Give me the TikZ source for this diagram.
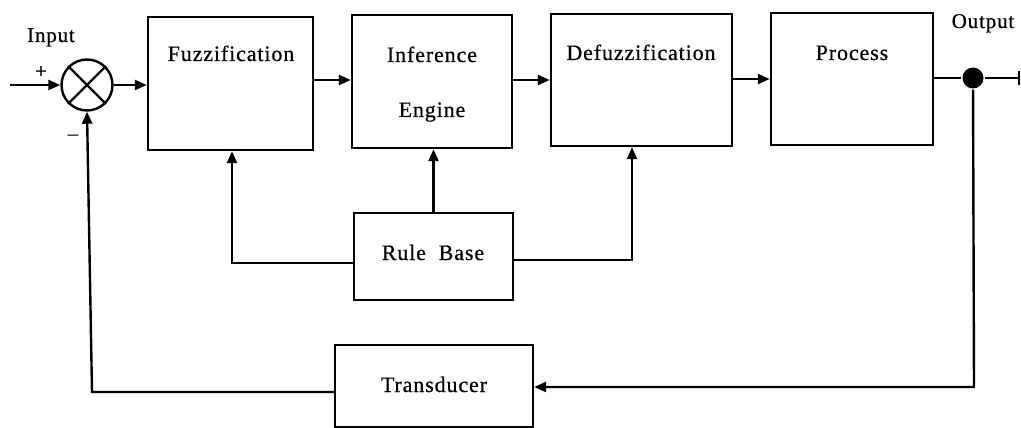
\documentclass[tikz,border=0pt]{standalone}
\usepackage{fontspec}
\setmainfont{Liberation Serif}[LetterSpace=4,FakeBold=0.6]
\usetikzlibrary{arrows.meta,calc}
\begin{document}
\begin{tikzpicture}[x=1pt,y=-1pt,
  line width=2.4pt,
  >={Triangle[length=12pt,width=10pt]},
  blk/.style={draw,line width=2.4pt,inner sep=0pt,minimum width=#1},
  lbl/.style={font=\fontsize{22}{24}\selectfont,inner sep=0pt,anchor=base},
  small/.style={font=\fontsize{21}{23}\selectfont,inner sep=0pt,anchor=base}]
\useasboundingbox (0,0) rectangle (1021,428);
% blocks
\node[blk=165, minimum height=133] (fuzz) at (230.5,83.5) {};
\node[blk=160, minimum height=133] (inf) at (432,81.5) {};
\node[blk=181, minimum height=132] (defuzz) at (641.5,80) {};
\node[blk=162, minimum height=132] (proc) at (852,79) {};
\node[blk=159, minimum height=87] (rule) at (433.5,256.5) {};
\node[blk=198, minimum height=82] (trans) at (434,386) {};
\node[draw,circle,minimum size=51,inner sep=0pt] (sum) at (87,85) {};
\draw (sum.north west) -- (sum.south east) (sum.north east) -- (sum.south west);
\node[fill,circle,minimum size=21,inner sep=0pt] (dot) at (973,78) {};
% labels
\node[lbl] (tfuzz) at (231,61) {Fuzzification};
\node[lbl] (tinf1) at (432,62) {Inference};
\node[lbl] (tinf2) at (432,117) {Engine};
\node[lbl] (tdef) at (641,60) {Defuzzification};
\node[lbl] (tproc) at (852,60) {Process};
\node[lbl] (trule) at (433,260) {Rule\ \ Base};
\node[lbl] (ttrans) at (434,392) {Transducer};
\node[small] (tin) at (51,42) {Input};
\node[small] (tout) at (983,28) {Output};
\node[small] (tplus) at (41,78) {+};
\node[small] (tminus) at (73,140) {--};
% connectors
\coordinate (in) at (10,85);
\draw[->] (in) -- (sum.west);
\draw[->] (sum.east) -- (fuzz.west |- sum.east);
\draw[->] (fuzz.east |- 0,80) -- (inf.west |- 0,80);
\draw[->] (inf.east |- 0,80) -- (defuzz.west |- 0,80);
\draw[->] (defuzz.east |- 0,79) -- (proc.west |- 0,79);
\coordinate (outend) at (1019,78);
\draw (proc.east |- dot) -- (dot) -- (outend);
\draw[line width=1.8pt] (outend) ++(0,-7) -- ++(0,14);
\coordinate (fb1) at (974,387);
\draw[->] (dot) -- (fb1) -- (trans.east |- fb1);
\coordinate (fb2) at (92,392);
\draw[->] (trans.west |- fb2) -- (fb2) -- (sum.south);
\coordinate (rl) at (232,263);
\draw[->] (rule.west |- rl) -- (rl) -- (fuzz.south -| rl);
\draw[->] (rule.north) -- (inf.south -| rule.north);
\coordinate (rr) at (632,260);
\draw[->] (rule.east |- rr) -- (rr) -- (defuzz.south -| rr);
\end{tikzpicture}
\end{document}
